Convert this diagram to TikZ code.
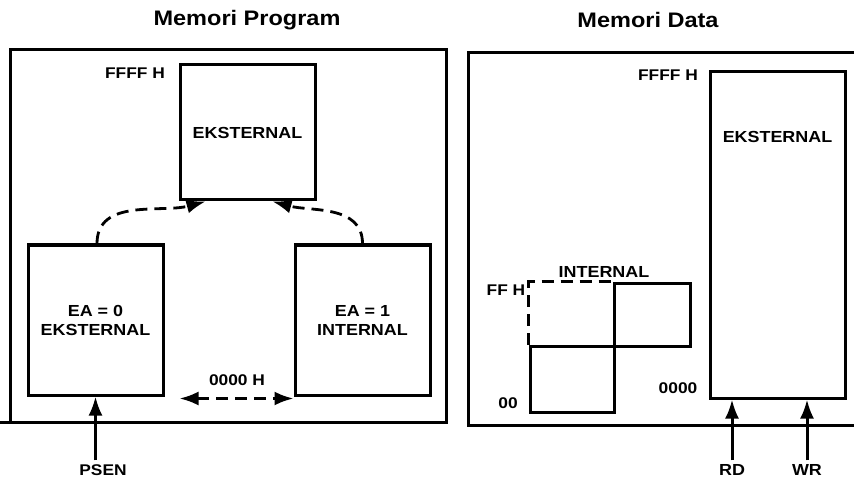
\documentclass[tikz,border=0pt]{standalone}
\usepackage{fontspec}
\setmainfont{Liberation Sans}[FakeStretch=1.12]
\usetikzlibrary{arrows.meta,positioning}

\begin{document}
\begin{tikzpicture}[x=1pt,y=-1pt,
    frame/.style={line width=3pt},
    mem/.style={draw,line width=3pt,inner sep=0pt,align=center,
      font=\bfseries\fontsize{16}{19}\selectfont},
    lbl/.style={inner sep=0pt,font=\bfseries\fontsize{15.5}{18}\selectfont},
    ttl/.style={inner sep=0pt,font=\bfseries\fontsize{21}{24}\selectfont},
    flow/.style={line width=2.8pt,dash pattern=on 12pt off 7pt,
      -{Latex[length=19pt,width=14pt]}},
    sig/.style={line width=3pt,-{Latex[length=19pt,width=14pt]}}]

  \useasboundingbox (0,0) rectangle (854,481);

  % ---- titles ----
  \node[ttl] (tprog) at (247,20) {Memori Program};
  \node[ttl] (tdata) at (648,20) {Memori Data};

  % ---- frames (both cut off at the bottom / right) ----
  \draw[frame] (0,422) -- (446,422) -- (446,50) -- (10,50) -- (10,422);
  \draw[frame] (854,53) -- (468,53) -- (468,425) -- (854,425);

  % ---- program memory ----
  \node[mem,minimum width=135pt,minimum height=135pt] (ext) at (247.5,132.5) {EKSTERNAL};
  \node[mem,minimum width=135pt,minimum height=150pt] (ea0) at (95.5,320) {EA = 0\\EKSTERNAL};
  \node[mem,minimum width=135pt,minimum height=150pt] (ea1) at (362.5,320) {EA = 1\\INTERNAL};
  \node[lbl] (ptop) at (135,73) {FFFF H};
  \node[lbl] (pbot) at (237,380) {0000 H};

  \draw[flow] ([xshift=1.5pt]ea0.north) to[out=90,in=195] ([xshift=-42pt]ext.south);
  \draw[flow] (ea1.north) to[out=90,in=345] ([xshift=25pt]ext.south);
  \draw[flow,{Latex[length=19pt,width=14pt]}-{Latex[length=19pt,width=14pt]}]
    ([xshift=15pt,yshift=-2pt]ea0.south east) -- ([yshift=-2pt]ea1.south west);

  \node[lbl] (psen) at (103,470) {PSEN};
  \draw[sig] ([yshift=4pt]ea0.south |- psen.north) -- (ea0.south);

  % ---- data memory ----
  \node[mem,minimum width=135pt,minimum height=326pt] (dext) at (777.5,235) {};
  \node[lbl,font=\bfseries\fontsize{16}{19}\selectfont] (dextlbl) at (777.5,137) {EKSTERNAL};
  \node[lbl] (dtop) at (668,75) {FFFF H};
  \node[lbl] (dbot) at (678,388) {0000};

  \node[mem,minimum width=84pt,minimum height=66pt] (ilow) at (572,379) {};
  \node[mem,minimum width=76pt,minimum height=63pt] (ihigh) at (652,314.5) {};
  \draw[line width=2.8pt,dash pattern=on 12pt off 7pt]
    (ilow.north west) |- (ihigh.north west);
  \node[lbl,font=\bfseries\fontsize{16}{19}\selectfont] (intlbl) at (604,272) {INTERNAL};
  \node[lbl] (itop) at (506,290) {FF H};
  \node[lbl] (ibot) at (508,403) {00};

  % ---- read / write strobes ----
  \foreach \n/\x/\t in {rd/732/RD,wr/807/WR} {
    \node[lbl,font=\bfseries\fontsize{16}{19}\selectfont] (\n) at (\x,470) {\t};
    \draw[sig] ([yshift=4pt]\n.north) -- (\n.north |- dext.south);
  }

\end{tikzpicture}
\end{document}
